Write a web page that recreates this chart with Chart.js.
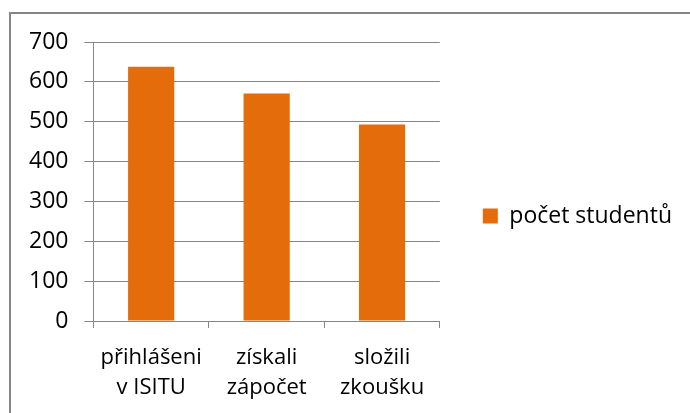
<!DOCTYPE html>
<html>
<head>
<meta charset="utf-8">
<script src="https://cdn.jsdelivr.net/npm/chart.js@4/dist/chart.umd.min.js"></script>
<style>
    body { margin: 0; background: #fff; }
    #frame { position: absolute; left: 9px; top: 12px; width: 700px; height: 420px;
             border-top: 2px solid #868686; border-left: 2px solid #868686; }
    #sizeTable { position: absolute; left: 0; top: 0; }
</style>
</head>
<body>
<div id="frame"></div>
<canvas id="sizeTable" width="690" height="413"></canvas>
<script>
var categories = [["přihlášeni", "v ISITU"], ["získali", "zápočet"], ["složili", "zkoušku"]],
    studentCounts = [638, 571, 493],
    seriesName = "počet studentů",
    yTicks = [0, 100, 200, 300, 400, 500, 600, 700];

var gridGray = "#868686",
    barOrange = "#E46C0A",
    myBarChart,
    ctx;

Chart.defaults.font.family = "'Open Sans', sans-serif";
Chart.defaults.color = "#000";

function fillChartData(){
    var data = {
        labels: categories,
        datasets: [
            {
                label: seriesName,
                backgroundColor: barOrange,
                borderWidth: 0,
                barPercentage: 0.4,
                categoryPercentage: 1,
                data: studentCounts
            }
        ]
    };

    ctx = document.getElementById("sizeTable").getContext("2d");
    myBarChart = new Chart(ctx, {
        type: 'bar',
        data: data,
        options: {
            responsive: false,
            animation: false,
            layout: { padding: { left: 13, right: 8, top: 14, bottom: -5 } },
            plugins: {
                tooltip: { enabled: false },
                // empty spacer above the plot only, so the legend stays centred like the original
                title: {
                    display: true,
                    text: '',
                    fullSize: false,
                    font: { size: 12, lineHeight: 1 },
                    padding: { top: 0, bottom: 16 }
                },
                legend: {
                    position: 'right',
                    maxWidth: 300,
                    labels: {
                        boxWidth: 15,
                        boxHeight: 15,
                        padding: 43,
                        font: { size: 23 }
                    }
                }
            },
            scales: {
                x: {
                    grid: { drawOnChartArea: false, color: gridGray, tickLength: 7, offset: true },
                    border: { color: gridGray },
                    ticks: { padding: 15, font: { size: 22, lineHeight: '30px' } }
                },
                y: {
                    min: yTicks[0],
                    max: yTicks[yTicks.length - 1],
                    grid: { color: gridGray, tickLength: 9 },
                    border: { color: gridGray },
                    ticks: { stepSize: 100, padding: 16, font: { size: 23 } }
                }
            }
        }
    });
}

fillChartData();
</script>
</body>
</html>
